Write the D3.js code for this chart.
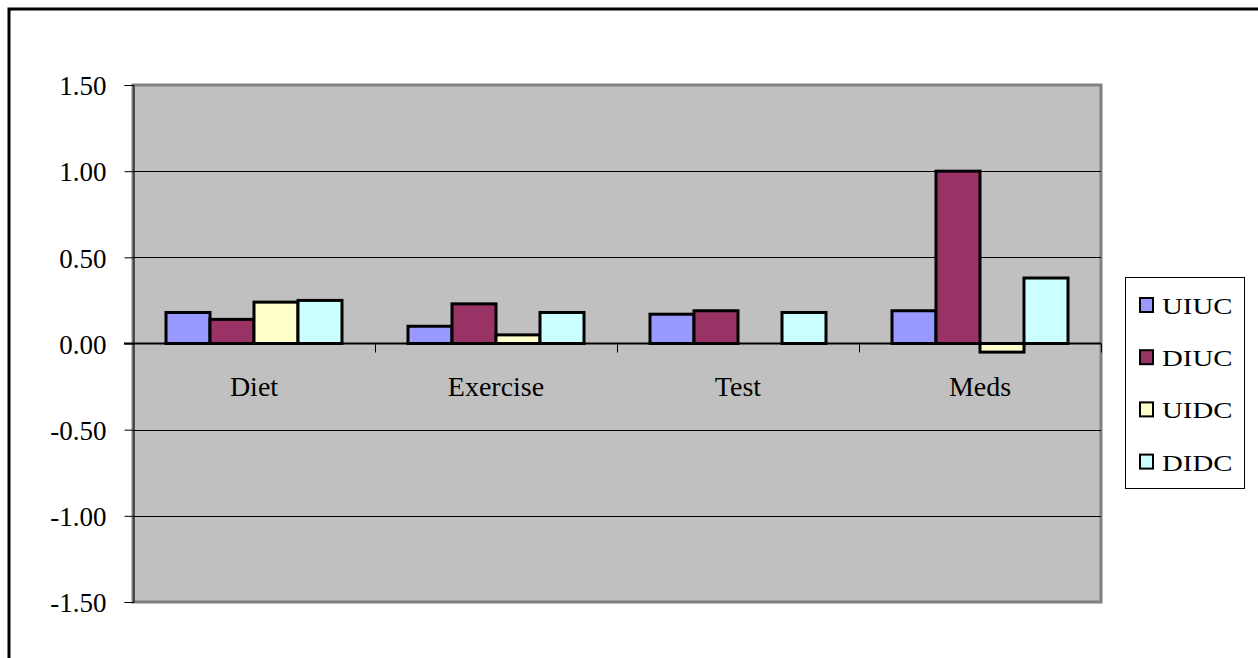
<!DOCTYPE html>
<html>
<head>
<meta charset="utf-8">
<script src="https://cdn.jsdelivr.net/npm/d3@7"></script>
<style>
  html, body { margin: 0; padding: 0; background: #fff; }
  svg { display: block; }
  text { font-family: "Liberation Serif", "Times New Roman", serif; fill: #000; }
</style>
</head>
<body>
<svg id="chart" width="1258" height="658"></svg>
<script>
// Categories and series
const categories = ["Diet", "Exercise", "Test", "Meds"];
const seriesNames = ["UIUC", "DIUC", "UIDC", "DIDC"];
const seriesColors = ["#9999FF", "#993366", "#FFFFCC", "#CCFFFF"];

// One value per category, per series
const UIUC = [0.18, 0.10, 0.17, 0.19];
const DIUC = [0.14, 0.23, 0.19, 1.00];
const UIDC = [0.24, 0.05, 0.00, -0.05];
const DIDC = [0.25, 0.18, 0.18, 0.38];
const seriesValues = [UIUC, DIUC, UIDC, DIDC];

const yTicks = [-1.5, -1.0, -0.5, 0, 0.5, 1.0, 1.5];

const svg = d3.select("#chart");

// Outer chart frame (runs past the right and bottom of the view)
svg.append("rect")
  .attr("x", 9).attr("y", 9)
  .attr("width", 1270).attr("height", 680)
  .attr("fill", "#fff")
  .attr("stroke", "#000").attr("stroke-width", 3);

const plot = { left: 133, right: 1101, top: 85, bottom: 602 };

const x = d3.scaleBand()
  .domain(categories)
  .range([plot.left, plot.right])
  .padding(0);

const xInner = d3.scaleBand()
  .domain(seriesNames)
  .range([0, x.bandwidth()])
  .paddingInner(0)
  .paddingOuter(0.75);

const y = d3.scaleLinear()
  .domain([-1.5, 1.5])
  .range([plot.bottom, plot.top]);

// Plot area background
svg.append("rect")
  .attr("x", plot.left).attr("y", plot.top)
  .attr("width", plot.right - plot.left)
  .attr("height", plot.bottom - plot.top)
  .attr("fill", "#C0C0C0")
  .attr("stroke", "#808080").attr("stroke-width", 3);

// Horizontal gridlines
svg.append("g")
  .selectAll("line")
  .data(yTicks.filter(t => t !== 0 && Math.abs(t) !== 1.5))
  .join("line")
  .attr("x1", plot.left).attr("x2", plot.right)
  .attr("y1", d => Math.round(y(d)) + 0.5)
  .attr("y2", d => Math.round(y(d)) + 0.5)
  .attr("stroke", "#000").attr("stroke-width", 1);

// Value axis (plain hyphen for negatives)
const fmt = d3.format(".2f");
const yAxis = d3.axisLeft(y)
  .tickValues(yTicks)
  .tickFormat(d => fmt(d).replace("\u2212", "-"))
  .tickSize(9)
  .tickPadding(18);

const yAxisG = svg.append("g")
  .attr("transform", `translate(${plot.left + 0.5},0)`)
  .call(yAxis);
yAxisG.select(".domain").attr("stroke", "#000").attr("stroke-width", 1);
yAxisG.selectAll(".tick line").attr("stroke", "#000");
yAxisG.selectAll(".tick text")
  .attr("font-size", 27)
  .style("font-family", "'Liberation Serif', 'Times New Roman', serif")
  .attr("dy", "0.36em");

// Bars
const groups = svg.append("g")
  .selectAll("g")
  .data(seriesNames.map((name, i) => ({ name, color: seriesColors[i], values: seriesValues[i] })))
  .join("g")
  .attr("fill", d => d.color);

groups.selectAll("rect")
  .data(d => d.values.map((v, j) => ({ series: d.name, cat: categories[j], value: v })))
  .join("rect")
  .attr("x", d => x(d.cat) + xInner(d.series))
  .attr("width", xInner.bandwidth())
  .attr("y", d => y(Math.max(0, d.value)))
  .attr("height", d => Math.abs(y(d.value) - y(0)))
  .attr("stroke", "#000")
  .attr("stroke-width", 3);

// Category axis along zero
const zeroY = y(0);
svg.append("line")
  .attr("x1", plot.left - 9).attr("x2", plot.right)
  .attr("y1", zeroY).attr("y2", zeroY)
  .attr("stroke", "#000").attr("stroke-width", 2);

svg.append("g")
  .selectAll("line")
  .data(categories)
  .join("line")
  .attr("x1", d => Math.round(x(d) + x.bandwidth()) + 0.5)
  .attr("x2", d => Math.round(x(d) + x.bandwidth()) + 0.5)
  .attr("y1", zeroY).attr("y2", zeroY + 9)
  .attr("stroke", "#000").attr("stroke-width", 1);

svg.append("g")
  .selectAll("text")
  .data(categories)
  .join("text")
  .attr("x", d => x(d) + x.bandwidth() / 2)
  .attr("y", zeroY + 52)
  .attr("text-anchor", "middle")
  .attr("font-size", 28)
  .text(d => d);

// Legend
const legend = svg.append("g");
legend.append("rect")
  .attr("x", 1125.5).attr("y", 277.5)
  .attr("width", 119).attr("height", 211)
  .attr("fill", "#fff")
  .attr("stroke", "#000").attr("stroke-width", 1);

const legendRows = legend.selectAll("g.row")
  .data(seriesNames.map((name, i) => ({ name, color: seriesColors[i] })))
  .join("g")
  .attr("class", "row")
  .attr("transform", (d, i) => `translate(0,${305 + i * 52.2})`);

legendRows.append("rect")
  .attr("x", 1140).attr("y", -7)
  .attr("width", 13).attr("height", 14)
  .attr("fill", d => d.color)
  .attr("stroke", "#000").attr("stroke-width", 2);

legendRows.append("text")
  .attr("transform", "translate(1162,9) scale(1.2,1)")
  .attr("font-size", 24)
  .text(d => d.name);
</script>
</body>
</html>
